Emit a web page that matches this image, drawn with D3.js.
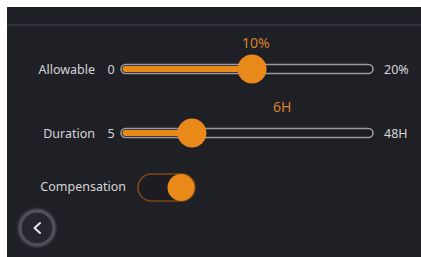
<!DOCTYPE html>
<html>
<head>
<meta charset="utf-8">
<script src="https://cdn.jsdelivr.net/npm/d3@7"></script>
<style>
  html, body { margin: 0; padding: 0; background: #ffffff; }
  svg { display: block; font-family: "Noto Sans", sans-serif; }
</style>
</head>
<body>
<svg id="chart" width="421" height="257"></svg>
<script>
// slider rows
var sliderNames = ['Allowable', 'Duration'];
var sliderMin = [0, 5];
var sliderMax = [20, 48];
var sliderKnob = [10.4, 17.1];          // where the knob sits on each track
var sliderValueText = ['10%', '6H'];
var sliderValueAt = [10.7, 32.5];       // where the value caption sits
var sliderMinText = ['0', '5'];
var sliderMaxText = ['20%', '48H'];

// toggle row
var toggleName = 'Compensation';
var toggleOn = [true];

var orange = '#e8891a';

var svg = d3.select('#chart');

// panel
svg.append('rect')
  .attr('x', 7).attr('y', 7)
  .attr('width', 414).attr('height', 250)
  .attr('fill', '#1f1f26');

svg.append('line')
  .attr('x1', 7).attr('x2', 421)
  .attr('y1', 25).attr('y2', 25)
  .attr('stroke', '#3a3a44')
  .attr('stroke-width', 1.5);

var trackLeft = 121, trackRight = 373;
var rowY = d3.scalePoint().domain(sliderNames).range([69, 133]);

sliderNames.forEach(function (name, i) {
  var x = d3.scaleLinear().domain([sliderMin[i], sliderMax[i]]).range([trackLeft, trackRight]);
  var y = rowY(name);
  var g = svg.append('g');

  g.append('text')
    .attr('x', 95).attr('y', y + 4.5)
    .attr('text-anchor', 'end')
    .attr('fill', '#d6d6d6')
    .attr('font-size', 12.5)
    .text(name);

  g.append('text')
    .attr('x', 111).attr('y', y + 4.5)
    .attr('text-anchor', 'middle')
    .attr('fill', '#d6d6d6')
    .attr('font-size', 12.5)
    .text(sliderMinText[i]);

  g.append('text')
    .attr('x', 384).attr('y', y + 4.5)
    .attr('fill', '#d6d6d6')
    .attr('font-size', 12.5)
    .text(sliderMaxText[i]);

  // track outline
  g.append('rect')
    .attr('x', x(sliderMin[i])).attr('y', y - 4.5)
    .attr('width', x(sliderMax[i]) - x(sliderMin[i])).attr('height', 9)
    .attr('rx', 4.5)
    .attr('fill', '#1c1c22')
    .attr('stroke', '#9c9aa0')
    .attr('stroke-width', 1.6);

  // filled part
  g.append('rect')
    .attr('x', x(sliderMin[i]) + 1.5).attr('y', y - 3)
    .attr('width', x(sliderKnob[i]) - x(sliderMin[i])).attr('height', 6)
    .attr('rx', 3)
    .attr('fill', orange);

  g.append('circle')
    .attr('cx', x(sliderKnob[i])).attr('cy', y)
    .attr('r', 14.5)
    .attr('fill', orange);

  g.append('text')
    .attr('x', x(sliderValueAt[i])).attr('y', y - 21)
    .attr('text-anchor', 'middle')
    .attr('fill', '#d9822a')
    .attr('font-size', 14)
    .text(sliderValueText[i]);
});

// toggle
var tg = svg.append('g');
tg.append('text')
  .attr('x', 126).attr('y', 191)
  .attr('text-anchor', 'end')
  .attr('fill', '#d6d6d6')
  .attr('font-size', 12.5)
  .text(toggleName);

var tx = d3.scaleOrdinal().domain([false, true]).range([152, 181]);
tg.append('rect')
  .attr('x', 138).attr('y', 174)
  .attr('width', 57).attr('height', 27)
  .attr('rx', 13.5)
  .attr('fill', '#1c1c22')
  .attr('stroke', '#7d4816')
  .attr('stroke-width', 1.6);
tg.selectAll('circle.knob')
  .data(toggleOn)
  .enter().append('circle')
  .attr('class', 'knob')
  .attr('cx', function (d) { return tx(d); })
  .attr('cy', 187.5)
  .attr('r', 13.5)
  .attr('fill', orange);

// back button
var defs = svg.append('defs');
var glow = defs.append('filter').attr('id', 'glow').attr('x', '-50%').attr('y', '-50%').attr('width', '200%').attr('height', '200%');
glow.append('feGaussianBlur').attr('stdDeviation', 1.5);

svg.append('circle')
  .attr('cx', 37).attr('cy', 228).attr('r', 17)
  .attr('fill', 'none')
  .attr('stroke', '#6a6a72')
  .attr('stroke-width', 3)
  .attr('filter', 'url(#glow)');
svg.append('circle')
  .attr('cx', 37).attr('cy', 228).attr('r', 16)
  .attr('fill', '#26262e')
  .attr('stroke', '#55555d')
  .attr('stroke-width', 1);
svg.append('path')
  .attr('d', 'M40,223 L34.5,228 L40,233')
  .attr('fill', 'none')
  .attr('stroke', '#e6e6e6')
  .attr('stroke-width', 2)
  .attr('stroke-linecap', 'round')
  .attr('stroke-linejoin', 'round');
</script>
</body>
</html>
